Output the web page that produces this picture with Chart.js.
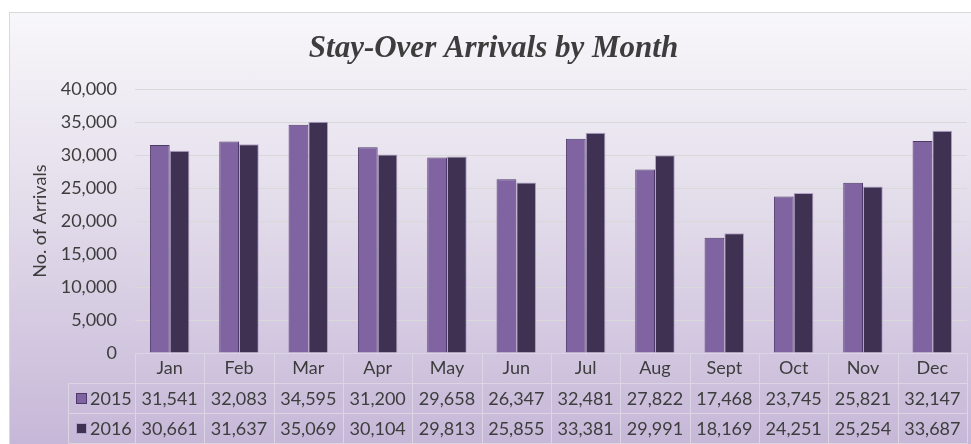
<!DOCTYPE html>
<html>
<head>
<meta charset="utf-8">
<title>Stay-Over Arrivals by Month</title>
<script src="https://cdn.jsdelivr.net/npm/chart.js@4"></script>
<style>
  html, body { margin: 0; padding: 0; background: #fff; overflow: hidden; }
  #frame {
    position: absolute; left: 9px; top: 12px; width: 962px; height: 440px;
    border-left: 1px solid #d9d9d9; border-top: 1px solid #d9d9d9;
    background: linear-gradient(to bottom, #f8f7fa 0%, #e5dfec 40%, #c5b6d7 100%);
  }
  #wrap { position: absolute; left: 0; top: 0; width: 971px; height: 444px; }
</style>
</head>
<body>
<div id="frame"></div>
<div id="wrap"><canvas id="arrivalsChart" width="971" height="444"></canvas></div>
<script>
const months = ['Jan', 'Feb', 'Mar', 'Apr', 'May', 'Jun', 'Jul', 'Aug', 'Sept', 'Oct', 'Nov', 'Dec'];
const arrivals2015 = [31541, 32083, 34595, 31200, 29658, 26347, 32481, 27822, 17468, 23745, 25821, 32147];
const arrivals2016 = [30661, 31637, 35069, 30104, 29813, 25855, 33381, 29991, 18169, 24251, 25254, 33687];
const seriesNames = ['2015', '2016'];
const yMax = 40000;
const yStep = 5000;

const textColor = '#3d3d3d';
const lineColor = '#dcd5e4';
const baseFont = 'Lato';
const baseSize = 18;

function fmt(v) {
    return v.toLocaleString('en-US');
}

// draws the data table under the plot, lined up with the category scale
const dataTable = {
    id: 'dataTable',
    afterDraw(chart) {
        const ctx = chart.ctx;
        const area = chart.chartArea;
        const x = chart.scales.x;
        const half = (x.getPixelForValue(1) - x.getPixelForValue(0)) / 2;
        const top = Math.round(area.bottom) + 0.5;
        const rowH = 30;
        const legendLeft = 68.5;
        const right = Math.round(x.getPixelForValue(months.length - 1) + half) + 0.5;
        const rowsBottom = top + rowH * 3;

        ctx.save();
        ctx.strokeStyle = lineColor;
        ctx.lineWidth = 1;
        ctx.beginPath();
        ctx.moveTo(Math.round(area.left) + 0.5, top);
        ctx.lineTo(right, top);
        for (let r = 1; r <= 3; r++) {
            ctx.moveTo(legendLeft, top + rowH * r);
            ctx.lineTo(right, top + rowH * r);
        }
        for (let i = 0; i <= months.length; i++) {
            const px = Math.round(x.getPixelForValue(i) - half) + 0.5;
            ctx.moveTo(px, top);
            ctx.lineTo(px, rowsBottom);
        }
        ctx.moveTo(legendLeft, top + rowH);
        ctx.lineTo(legendLeft, rowsBottom);
        ctx.stroke();

        ctx.font = baseSize + 'px ' + baseFont;
        ctx.textBaseline = 'middle';
        chart.data.datasets.forEach((ds, r) => {
            const cy = top + rowH * (r + 1) + rowH / 2;
            ctx.fillStyle = ds.backgroundColor;
            ctx.fillRect(76, Math.round(cy) - 5, 10, 10);
            ctx.strokeStyle = ds.borderColor;
            ctx.strokeRect(76.5, Math.round(cy) - 5.5, 10, 10);
            ctx.fillStyle = textColor;
            ctx.textAlign = 'left';
            ctx.fillText(ds.label, 90, cy + 1);
            ctx.textAlign = 'center';
            ds.data.forEach((v, i) => {
                ctx.fillText(fmt(v), x.getPixelForValue(i), cy + 1);
            });
        });
        ctx.restore();
    }
};

function initChart() {
    const ctx = document.getElementById('arrivalsChart').getContext('2d');

    new Chart(ctx, {
        type: 'bar',
        data: {
            labels: months,
            datasets: [{
                label: seriesNames[0],
                data: arrivals2015,
                backgroundColor: '#8064a2',
                borderColor: '#4e3a68',
                borderWidth: 1,
                barPercentage: 1,
                categoryPercentage: 0.57
            }, {
                label: seriesNames[1],
                data: arrivals2016,
                backgroundColor: '#3f3151',
                borderColor: '#b2a3c9',
                borderWidth: 1,
                barPercentage: 1,
                categoryPercentage: 0.57
            }]
        },
        options: {
            responsive: false,
            animation: false,
            layout: {
                padding: { left: 20, right: 4, top: 0, bottom: 0 }
            },
            plugins: {
                legend: { display: false },
                tooltip: { enabled: false },
                title: {
                    display: true,
                    text: 'Stay-Over Arrivals by Month',
                    color: textColor,
                    font: { family: 'Liberation Serif', size: 31, style: 'italic', weight: 'bold' },
                    padding: { top: 30, bottom: 22 }
                }
            },
            scales: {
                x: {
                    grid: { display: false, drawTicks: false },
                    border: { display: false },
                    ticks: {
                        color: textColor,
                        font: { family: baseFont, size: baseSize },
                        padding: 4
                    },
                    afterFit: function(scale) {
                        scale.height = 91;
                    }
                },
                y: {
                    min: 0,
                    max: yMax,
                    border: { display: false },
                    grid: {
                        drawTicks: false,
                        color: function(c) {
                            return c.tick && c.tick.value === 0 ? 'rgba(0,0,0,0)' : '#d9d9d9';
                        }
                    },
                    ticks: {
                        stepSize: yStep,
                        color: textColor,
                        font: { family: baseFont, size: baseSize },
                        padding: 18,
                        callback: function(value) {
                            return fmt(value);
                        }
                    },
                    title: {
                        display: true,
                        text: 'No. of Arrivals',
                        color: textColor,
                        font: { family: baseFont, size: baseSize },
                        padding: { top: 9, bottom: 0 }
                    },
                    afterFit: function(scale) {
                        scale.width = 115;
                    }
                }
            }
        },
        plugins: [dataTable]
    });
}

document.addEventListener('DOMContentLoaded', initChart);
</script>
</body>
</html>
